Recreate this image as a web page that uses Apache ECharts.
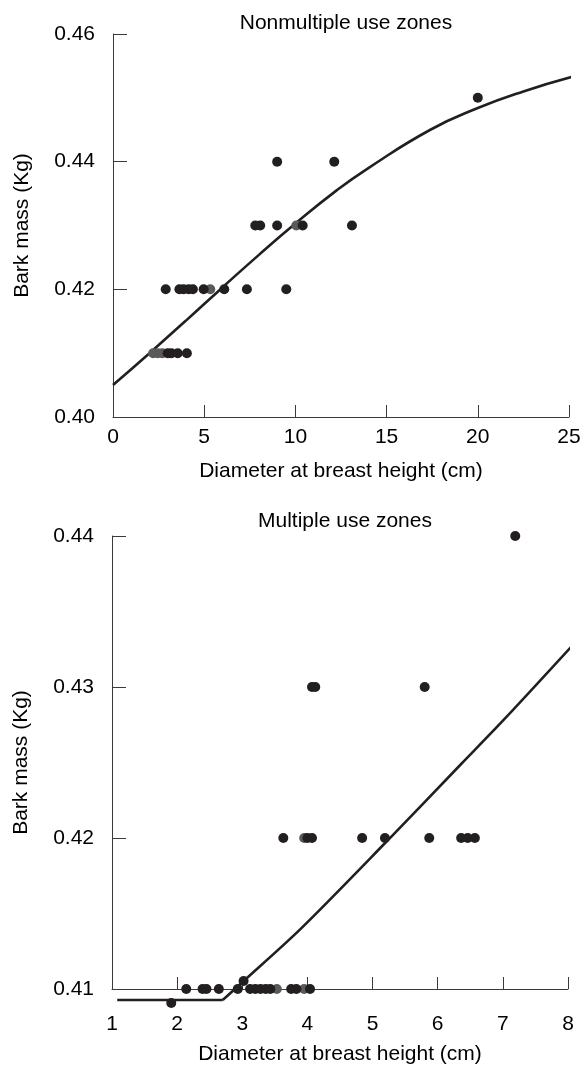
<!DOCTYPE html>
<html>
<head>
<meta charset="utf-8">
<script src="https://cdn.jsdelivr.net/npm/echarts@6/dist/echarts.min.js"></script>
<style>
html,body{margin:0;padding:0;background:#fff;}
#c{width:581px;height:1065px;}
</style>
</head>
<body>
<div id="c"></div>
<script>
// ---- Top panel: Nonmultiple use zones ----
var topTitle = 'Nonmultiple use zones';
var topBlack = [
  [3.0,0.41],[3.2,0.41],[3.55,0.41],[4.05,0.41],
  [2.89,0.42],[3.64,0.42],[3.87,0.42],[4.15,0.42],[4.38,0.42],[4.97,0.42],[6.1,0.42],[7.34,0.42],[9.5,0.42],
  [7.8,0.43],[8.07,0.43],[9.0,0.43],[10.4,0.43],[13.1,0.43],
  [9.0,0.44],[12.13,0.44],
  [20.0,0.45]
];
var topGrey = [[2.2,0.41],[2.45,0.41],[2.7,0.41],[5.33,0.42],[10.05,0.43]];
var topCurveX = [0, 2, 4, 6, 8, 10, 12.26, 14, 17.4, 20, 22.5, 25.2];
var topCurveY = [0.4050, 0.4100, 0.4151, 0.4203, 0.4254, 0.4303, 0.4355, 0.4390, 0.4450, 0.4484, 0.4510, 0.4533];

// ---- Bottom panel: Multiple use zones ----
var botTitle = 'Multiple use zones';
var botBlack = [
  [1.91,0.40907],
  [2.14,0.41],[2.39,0.41],[2.45,0.41],[2.64,0.41],[2.93,0.41],[3.02,0.41053],[3.12,0.41],[3.2,0.41],[3.28,0.41],[3.36,0.41],[3.43,0.41],[3.75,0.41],[3.83,0.41],[4.04,0.41],
  [3.63,0.42],[4.0,0.42],[4.07,0.42],[4.84,0.42],[5.19,0.42],[5.87,0.42],[6.36,0.42],[6.46,0.42],[6.57,0.42],
  [4.07,0.43],[4.12,0.43],[5.8,0.43],
  [7.19,0.44]
];
var botGrey = [[3.53,0.41],[3.95,0.41],[3.95,0.42]];
// flat segment of the fitted line
var botFlatX = [1.08, 2.7];
var botFlatY = [0.40927, 0.40927];
// rising segment of the fitted line
var botRiseX = [2.7, 3.0, 3.9, 5.2, 6.36, 7.03, 8.1];
var botRiseY = [0.40927, 0.41045, 0.4140, 0.4197, 0.4249, 0.4279, 0.4329];

var xName = 'Diameter at breast height (cm)';
var yName = 'Bark mass (Kg)';

function pairs(xs, ys){ return xs.map(function(x,i){ return [x, ys[i]]; }); }

var FONT = 'Liberation Sans, Arial, Helvetica, sans-serif';
var FS = 21;
var INK = '#231f20';
var AX = '#3a3a3a';

function xAxis(idx, min, max, interval, labelMargin, nameGap){
  return {
    type:'value', gridIndex: idx, min:min, max:max, interval:interval,
    name: xName, nameLocation:'middle', nameGap:nameGap,
    nameTextStyle:{fontFamily:FONT, fontSize:FS, color:'#000'},
    axisLine:{show:true, onZero:false, lineStyle:{color:AX, width:1}},
    axisTick:{show:true, inside:true, length:12, lineStyle:{color:AX, width:1}},
    axisLabel:{fontFamily:FONT, fontSize:FS, color:'#000', margin:labelMargin},
    splitLine:{show:false}
  };
}
function yAxis(idx, min, max, interval){
  return {
    type:'value', gridIndex: idx, min:min, max:max, interval:interval,
    name: yName, nameLocation:'middle', nameGap:80,
    nameTextStyle:{fontFamily:FONT, fontSize:FS, color:'#000'},
    axisLine:{show:true, onZero:false, lineStyle:{color:AX, width:1}},
    axisTick:{show:true, inside:true, length:14, lineStyle:{color:AX, width:1}},
    axisLabel:{fontFamily:FONT, fontSize:FS, color:'#000', margin:18,
      formatter:function(v){ return v.toFixed(2); }},
    splitLine:{show:false}
  };
}

var dotStyle = {color:INK, opacity:1};
var greyStyle = {color:'#5a5a5a', opacity:1};

var chart = echarts.init(document.getElementById('c'), null, {renderer:'canvas'});
chart.setOption({
  backgroundColor:'#fff',
  animation:false,
  title:[
    {text: topTitle, left: 341, top: 8, textAlign:'center',
     textStyle:{fontFamily:FONT, fontSize:FS, fontWeight:'normal', color:'#000'}},
    {text: botTitle, left: 340, top: 506, textAlign:'center',
     textStyle:{fontFamily:FONT, fontSize:FS, fontWeight:'normal', color:'#000'}}
  ],
  grid:[
    {left:113, width:456, top:34, height:383, containLabel:false, outerBoundsMode:'none'},
    {left:112, width:456, top:536, height:453, containLabel:false, outerBoundsMode:'none'}
  ],
  xAxis:[ xAxis(0, 0, 25, 5, 10, 44), xAxis(1, 1, 8, 1, 25, 55) ],
  yAxis:[ yAxis(0, 0.40, 0.46, 0.02), yAxis(1, 0.41, 0.44, 0.01) ],
  series:[
    {type:'line', xAxisIndex:0, yAxisIndex:0, data: pairs(topCurveX, topCurveY), smooth:true,
     showSymbol:false, clip:false, lineStyle:{color:INK, width:2.6}, z:3},
    {type:'scatter', xAxisIndex:0, yAxisIndex:0, data: topGrey, symbolSize:10,
     itemStyle:greyStyle, clip:false, z:4},
    {type:'scatter', xAxisIndex:0, yAxisIndex:0, data: topBlack, symbolSize:10,
     itemStyle:dotStyle, clip:false, z:5},
    {type:'line', xAxisIndex:1, yAxisIndex:1, data: pairs(botFlatX, botFlatY), smooth:false,
     showSymbol:false, clip:false, lineStyle:{color:INK, width:2.6}, z:3},
    {type:'line', xAxisIndex:1, yAxisIndex:1, data: pairs(botRiseX, botRiseY), smooth:0.3,
     showSymbol:false, clip:false, lineStyle:{color:INK, width:2.6}, z:3},
    {type:'scatter', xAxisIndex:1, yAxisIndex:1, data: botGrey, symbolSize:10,
     itemStyle:greyStyle, clip:false, z:4},
    {type:'scatter', xAxisIndex:1, yAxisIndex:1, data: botBlack, symbolSize:10,
     itemStyle:dotStyle, clip:false, z:5}
  ]
});
</script>
</body>
</html>
